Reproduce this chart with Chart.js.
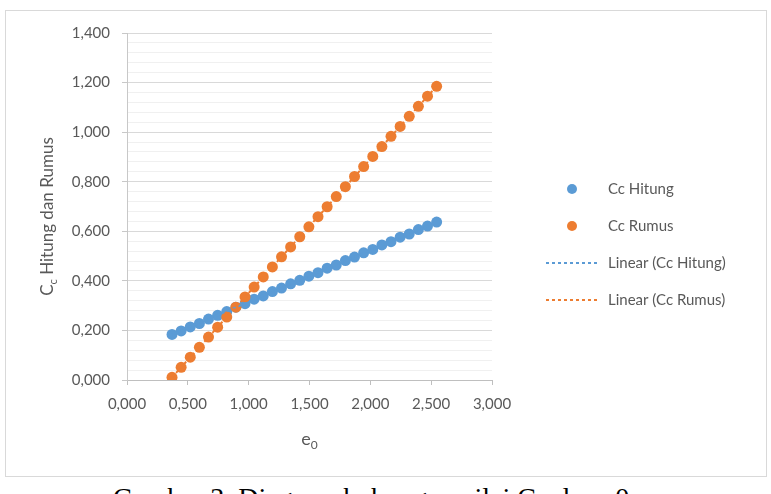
<!DOCTYPE html>
<html>
<head>
<meta charset="utf-8">
<script src="https://cdn.jsdelivr.net/npm/chart.js@4/dist/chart.umd.min.js"></script>
<style>
  body { margin: 0; background: #fff; width: 771px; height: 494px; overflow: hidden; position: relative; }
  #kotak { position: absolute; left: 5px; top: 10px; width: 762px; height: 467px; box-sizing: border-box; border: 1px solid #d9d9d9; }
  #kotak canvas { display: block; }
  #keterangan { position: absolute; left: 113px; top: 484px; font-family: "Liberation Serif", serif; font-size: 28px; line-height: 1; color: #000; white-space: nowrap; }
</style>
</head>
<body>
<div id="kotak"><canvas id="grafCc" width="760" height="465"></canvas></div>
<div id="keterangan">Gambar 3. Diagram hubungan nilai Cc dan e0</div>
<script>
// hodnoty odčítané z obrázka (e0 na osi x)
const e0 = [0.370, 0.445, 0.520, 0.595, 0.670, 0.745, 0.820, 0.895, 0.970, 1.045,
            1.120, 1.195, 1.270, 1.345, 1.420, 1.495, 1.570, 1.645, 1.720, 1.795,
            1.870, 1.945, 2.020, 2.095, 2.170, 2.245, 2.320, 2.395, 2.470, 2.545];
const ccHitung = [0.184, 0.198, 0.214, 0.228, 0.246, 0.261, 0.276, 0.294, 0.308, 0.326,
                  0.339, 0.357, 0.371, 0.388, 0.402, 0.419, 0.433, 0.451, 0.464, 0.482,
                  0.496, 0.513, 0.527, 0.545, 0.558, 0.576, 0.589, 0.607, 0.621, 0.637];
const ccRumus = [0.011, 0.051, 0.092, 0.132, 0.173, 0.213, 0.254, 0.294, 0.335, 0.375,
                 0.416, 0.456, 0.497, 0.537, 0.578, 0.618, 0.659, 0.699, 0.740, 0.780,
                 0.821, 0.861, 0.902, 0.942, 0.983, 1.023, 1.064, 1.104, 1.145, 1.185];
// koncové body trendových čiar
const trenX = [0.370, 2.545];
const trenHitung = [0.184, 0.637];
const trenRumus = [0.011, 1.185];

const namaSeri = ["Cc Hitung", "Cc Rumus", "Linear (Cc Hitung)", "Linear (Cc Rumus)"];
const biru = "#5b9bd5";
const oranye = "#ed7d31";
const abu = "#595959";

function body(xs, ys) {
    return xs.map((x, i) => ({ x: x, y: ys[i] }));
}

function jeHlavna(v, krok) {
    return Math.abs(Math.round(v / krok) - v / krok) < 1e-6;
}

function format(v) {
    return v.toFixed(3).replace(".", ",");
}

// ikony pre legendu
function ikonaBod(farba) {
    const c = document.createElement("canvas");
    c.width = 52; c.height = 12;
    const g = c.getContext("2d");
    g.fillStyle = farba;
    g.beginPath();
    g.arc(26, 6, 5, 0, Math.PI * 2);
    g.fill();
    return c;
}
function ikonaCiara(farba) {
    const c = document.createElement("canvas");
    c.width = 52; c.height = 2;
    const g = c.getContext("2d");
    g.fillStyle = farba;
    for (let i = 0; i < 52; i += 6) g.fillRect(i, 0, 3, 2);
    return c;
}
const ikony = [ikonaBod(biru), ikonaBod(oranye), ikonaCiara(biru), ikonaCiara(oranye)];

// legenda vpravo, kreslená vlastným pluginom
const legendaVpravo = {
    id: "legendaVpravo",
    afterDraw(chart) {
        const g = chart.ctx;
        g.save();
        g.font = "15px Lato";
        g.fillStyle = abu;
        g.textBaseline = "middle";
        namaSeri.forEach((t, i) => {
            const y = 178 + i * 37;
            const ik = ikony[i];
            g.drawImage(ik, 540, Math.round(y - ik.height / 2));
            g.fillText(t, 602, y);
        });
        g.restore();
    }
};

// nadpisy osí s dolným indexom
const judulSumbu = {
    id: "judulSumbu",
    afterDraw(chart) {
        const { ctx, chartArea } = chart;
        ctx.save();
        ctx.fillStyle = abu;
        ctx.textBaseline = "alphabetic";

        const castiY = [["C", 17, 0], ["c", 11, 4], [" Hitung dan Rumus", 17, 0]];
        let spolu = 0;
        castiY.forEach(p => { ctx.font = p[1] + "px Lato"; spolu += ctx.measureText(p[0]).width; });
        ctx.translate(47, (chartArea.top + chartArea.bottom) / 2 + 10);
        ctx.rotate(-Math.PI / 2);
        let x = -spolu / 2;
        castiY.forEach(p => {
            ctx.font = p[1] + "px Lato";
            ctx.fillText(p[0], x, p[2]);
            x += ctx.measureText(p[0]).width;
        });
        ctx.setTransform(1, 0, 0, 1, 0, 0);

        const castiX = [["e", 18, 0], ["0", 12, 4]];
        spolu = 0;
        castiX.forEach(p => { ctx.font = p[1] + "px Lato"; spolu += ctx.measureText(p[0]).width; });
        x = (chartArea.left + chartArea.right) / 2 - spolu / 2;
        castiX.forEach(p => {
            ctx.font = p[1] + "px Lato";
            ctx.fillText(p[0], x, 434 + p[2]);
            x += ctx.measureText(p[0]).width;
        });
        ctx.restore();
    }
};

const ctx = document.getElementById("grafCc").getContext("2d");
const graf = new Chart(ctx, {
    type: "scatter",
    data: {
        datasets: [
            { label: namaSeri[0], data: body(e0, ccHitung), backgroundColor: biru, borderColor: biru,
              pointRadius: 5.5, pointHoverRadius: 5.5, borderWidth: 0, order: 3 },
            { label: namaSeri[1], data: body(e0, ccRumus), backgroundColor: oranye, borderColor: oranye,
              pointRadius: 5.5, pointHoverRadius: 5.5, borderWidth: 0, order: 2 },
            { label: namaSeri[2], data: body(trenX, trenHitung), showLine: true, borderColor: biru,
              backgroundColor: biru, borderWidth: 2, borderDash: [3, 3], pointRadius: 0, order: 1 },
            { label: namaSeri[3], data: body(trenX, trenRumus), showLine: true, borderColor: oranye,
              backgroundColor: oranye, borderWidth: 2, borderDash: [3, 3], pointRadius: 0, order: 0 }
        ]
    },
    options: {
        responsive: false,
        animation: false,
        layout: { padding: { left: 0, top: 22, bottom: 0, right: 274 } },
        plugins: {
            tooltip: { enabled: false },
            legend: { display: false }
        },
        scales: {
            x: {
                type: "linear",
                position: "bottom",
                min: 0,
                max: 3,
                afterFit(s) { s.height = 96; },
                border: { display: true, color: "#bfbfbf" },
                grid: { drawOnChartArea: false, tickLength: 5, color: "#bfbfbf" },
                ticks: {
                    stepSize: 0.5,
                    padding: 10,
                    color: abu,
                    font: { family: "Lato", size: 15 },
                    callback: v => format(v)
                }
            },
            y: {
                type: "linear",
                position: "left",
                min: 0,
                max: 1.4,
                afterFit(s) { s.width = 121; },
                border: { display: true, color: "#c8c8c8" },
                grid: {
                    tickLength: 5,
                    color: c => jeHlavna(c.tick.value, 0.2) ? "#d9d9d9" : "#f0f0f0",
                    tickColor: c => jeHlavna(c.tick.value, 0.2) ? "#c8c8c8" : "rgba(0,0,0,0)"
                },
                ticks: {
                    stepSize: 0.04,
                    autoSkip: false,
                    padding: 12,
                    color: abu,
                    font: { family: "Lato", size: 15 },
                    callback: v => jeHlavna(v, 0.2) ? format(v) : ""
                }
            }
        }
    },
    plugins: [judulSumbu, legendaVpravo]
});
</script>
</body>
</html>
